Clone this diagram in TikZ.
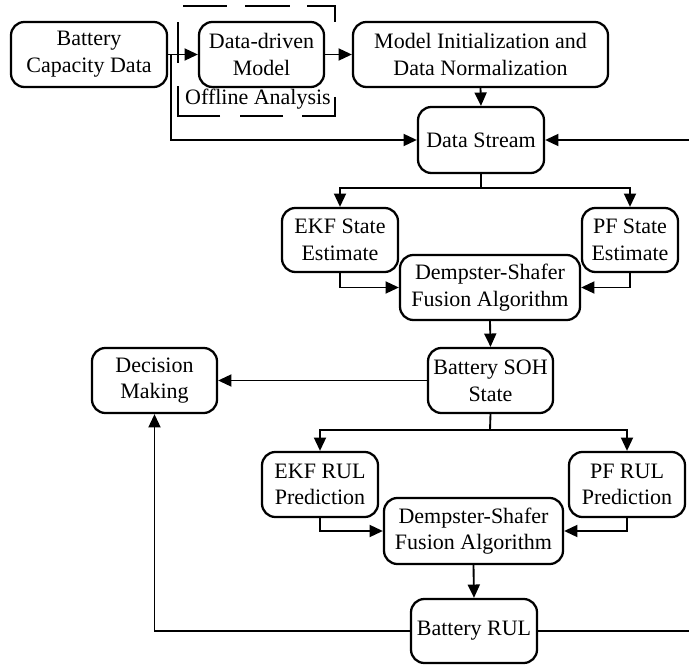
\documentclass[tikz,border=0pt]{standalone}
\usepackage{fontspec}
\setmainfont{Liberation Serif}
\usetikzlibrary{arrows.meta}
\begin{document}
\begin{tikzpicture}[x=0.75pt,y=-0.75pt,
  box/.style={draw,line width=1.7pt,rounded corners=10pt,align=center,inner sep=0pt,font=\fontsize{16.5}{20}\selectfont},
  sz/.style 2 args={minimum width=#1*0.75pt,minimum height=#2*0.75pt},
  conn/.style={line width=1.4pt},
  arr/.style={conn,-{Triangle[length=10pt,width=9pt]}},
  dsh/.style={line width=1.6pt}]
\useasboundingbox (0,0) rectangle (689,666);
% offline analysis dashed frame
\draw[dsh] (183,6)--(227,6) (245,6)--(290,6) (307,6)--(335,6)--(335,22);
\draw[dsh] (335,97)--(335,116)--(302,116) (283,116)--(240,116) (220,116)--(178,116)--(178,86) (178,63)--(178,22);
\node[font=\fontsize{16.5}{20}\selectfont,inner sep=0pt] (off) at (258,99) {Offline Analysis};
% nodes
\node[box,sz={156}{65}] (cap) at (89,54.5) {Battery\\Capacity Data};
\node[box,sz={125}{65}] (ddm) at (261.5,54.5) {Data-driven\\Model};
\node[box,sz={255}{65}] (init) at (480.5,54.5) {Model Initialization and\\Data Normalization};
\node[box,sz={126}{66}] (stream) at (481,140) {Data Stream};
\node[box,sz={116}{64}] (ekfs) at (340,240) {EKF State\\Estimate};
\node[box,sz={96}{64}] (pfs) at (630,240) {PF State\\Estimate};
\node[box,sz={180}{65}] (ds1) at (490,287.5) {Dempster-Shafer\\Fusion Algorithm};
\node[box,sz={125}{65}] (soh) at (490.5,380.5) {Battery SOH\\State};
\node[box,sz={125}{65}] (dec) at (154.5,380.5) {Decision\\Making};
\node[box,sz={116}{65}] (ekfr) at (320,484.5) {EKF RUL\\Prediction};
\node[box,sz={116}{65}] (pfr) at (627,484.5) {PF RUL\\Prediction};
\node[box,sz={179}{66}] (ds2) at (473.5,531) {Dempster-Shafer\\Fusion Algorithm};
\node[box,sz={126}{64}] (rul) at (474,631) {Battery RUL};
% helper coordinates
\coordinate (split) at (171,54.5);
\coordinate (redge1) at (689,140);
\coordinate (redge2) at (689,631);
\coordinate (b1) at (481,188);
\coordinate (b2) at (490,430);
% connectors
\draw[arr] (cap.east) -- (ddm.west);
\draw[arr] (ddm.east) -- (init.west);
\draw[arr] (init.south) -- (stream.north);
\draw[arr] (split) |- (stream.west);
\draw[arr] (redge1) -- (stream.east);
\draw[conn] (stream.south) -- (b1);
\draw[arr] (b1) -| (ekfs.north);
\draw[arr] (b1) -| (pfs.north);
\draw[arr] (ekfs.south) |- (ds1.west);
\draw[arr] (pfs.south) |- (ds1.east);
\draw[arr] (ds1.south) -- (soh.north);
\draw[arr] (soh.west) -- (dec.east);
\draw[conn] (soh.south) -- (b2);
\draw[arr] (b2) -| (ekfr.north);
\draw[arr] (b2) -| (pfr.north);
\draw[arr] (ekfr.south) |- (ds2.west);
\draw[arr] (pfr.south) |- (ds2.east);
\draw[arr] (ds2.south) -- (rul.north);
\draw[arr] (rul.west) -| (dec.south);
\draw[conn] (rul.east) -- (redge2);
\end{tikzpicture}
\end{document}
